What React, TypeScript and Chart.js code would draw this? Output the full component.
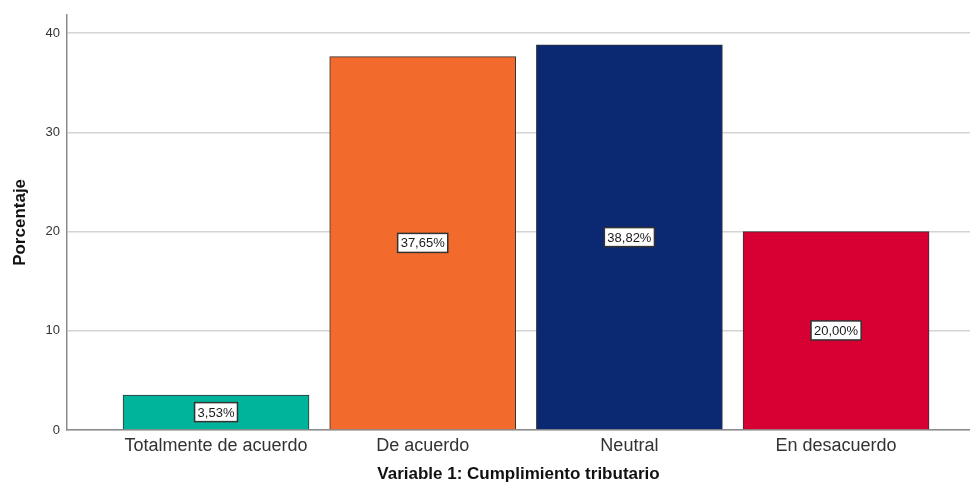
import React, { useEffect, useRef } from 'react';
import { Chart, registerables } from 'chart.js';

Chart.register(...registerables);

const categories = ['Totalmente de acuerdo', 'De acuerdo', 'Neutral', 'En desacuerdo'];
const percentages = [3.53, 37.65, 38.82, 20.0];
const barColors = ['#00B39B', '#F26A2C', '#0B2873', '#D70032'];
const yTickValues = [0, 10, 20, 30, 40];
const xTitle = 'Variable 1: Cumplimiento tributario';
const yTitle = 'Porcentaje';

const FONT = '"Liberation Sans", Arial, sans-serif';

const barLabelPlugin = {
  id: 'barLabels',
  afterDatasetsDraw(chart: any) {
    const ctx = chart.ctx;
    const meta = chart.getDatasetMeta(0);
    ctx.save();
    ctx.font = `13px ${FONT}`;
    ctx.textAlign = 'center';
    ctx.textBaseline = 'middle';
    meta.data.forEach((el: any, i: number) => {
      const { x, y, base } = el.getProps(['x', 'y', 'base'], true);
      const cy = (y + base) / 2;
      const text = percentages[i].toFixed(2).replace('.', ',') + '%';
      const w = ctx.measureText(text).width + 6;
      const h = 19;
      ctx.fillStyle = '#ffffff';
      ctx.fillRect(x - w / 2, cy - h / 2, w, h);
      ctx.lineWidth = 1.5;
      ctx.strokeStyle = '#333333';
      ctx.strokeRect(x - w / 2, cy - h / 2, w, h);
      ctx.fillStyle = '#1a1a1a';
      ctx.fillText(text, x, cy + 1);
    });
    ctx.restore();
  },
};

export default function App() {
  const canvasRef = useRef<HTMLCanvasElement>(null);

  useEffect(() => {
    if (!canvasRef.current) return;
    const chart = new Chart(canvasRef.current, {
      type: 'bar',
      data: {
        datasets: [
          {
            data: percentages.map((v, i) => ({ x: i, y: v })),
            backgroundColor: barColors,
            borderColor: '#333333',
            borderWidth: 1,
            barThickness: 186,
          },
        ],
      },
      options: {
        animation: false,
        responsive: false,
        layout: { padding: { top: 10, right: 0, left: 0, bottom: 0 } },
        plugins: { legend: { display: false }, tooltip: { enabled: false } },
        scales: {
          x: {
            type: 'linear',
            min: -0.721,
            max: 3.648,
            offset: false,
            afterBuildTicks: (scale: any) => {
              scale.ticks = categories.map((_, i) => ({ value: i }));
            },
            afterFit: (scale: any) => {
              scale.height = 59;
            },
            grid: { display: false, drawTicks: false, offset: false },
            border: { display: true, color: '#8c8c8c', width: 1.5 },
            ticks: {
              autoSkip: false,
              maxRotation: 0,
              padding: 5,
              color: '#333333',
              font: { family: FONT, size: 18 },
              callback: (v: any) => categories[v] ?? '',
            },
            title: {
              display: true,
              text: xTitle,
              color: '#111111',
              font: { family: FONT, size: 17, weight: 'bold' },
              padding: { top: 0, bottom: 4 },
            },
          },
          y: {
            min: 0,
            max: 41.86,
            afterBuildTicks: (scale: any) => {
              scale.ticks = yTickValues.map((v) => ({ value: v }));
            },
            afterFit: (scale: any) => {
              scale.width = 67;
            },
            grid: { color: '#d4d4d4', lineWidth: 1.5, drawTicks: false },
            border: { display: true, color: '#8c8c8c', width: 1.5 },
            ticks: {
              padding: 7,
              color: '#333333',
              font: { family: FONT, size: 13 },
            },
            title: {
              display: true,
              text: yTitle,
              color: '#111111',
              font: { family: FONT, size: 17, weight: 'bold' },
              padding: { top: 10, bottom: 0 },
            },
          },
        },
      },
      plugins: [barLabelPlugin],
    } as any);
    return () => chart.destroy();
  }, []);

  return (
    <div style={{ position: 'fixed', left: 0, top: 0, width: 970, height: 489, background: '#fff' }}>
      <canvas ref={canvasRef} width={970} height={489} style={{ display: 'block' }} />
    </div>
  );
}
